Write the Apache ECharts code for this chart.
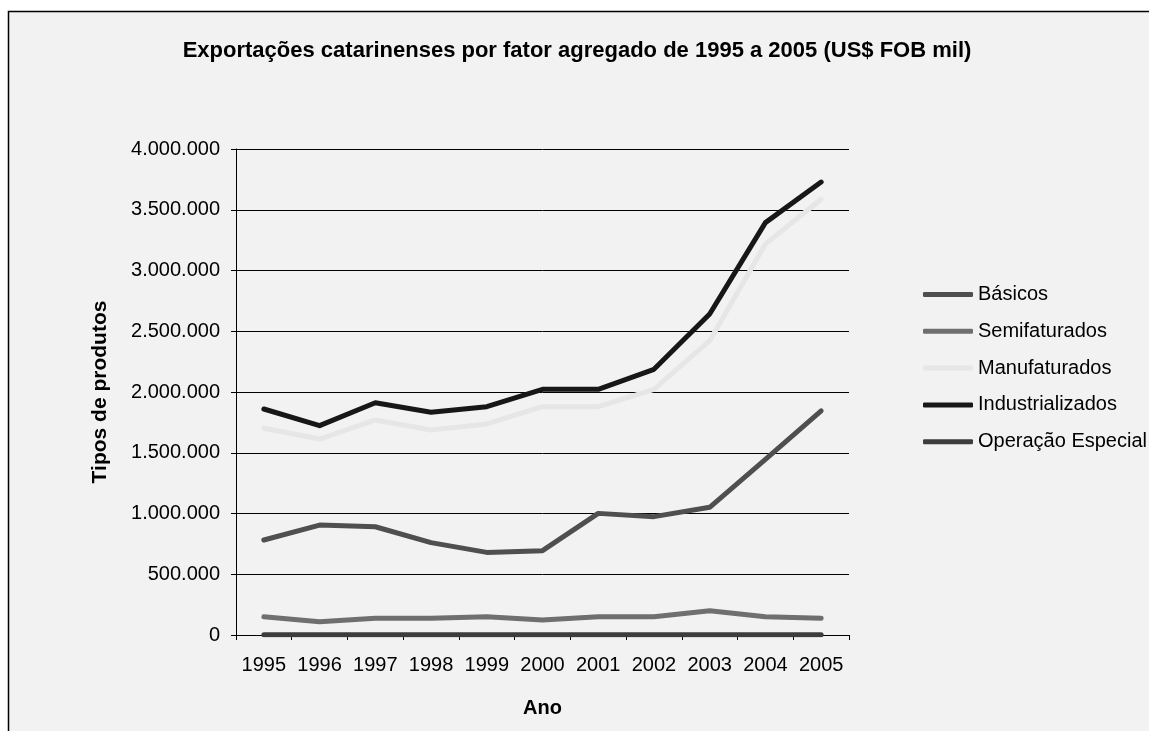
<!DOCTYPE html>
<html>
<head>
<meta charset="utf-8">
<title>Exportações catarinenses</title>
<script src="https://cdn.jsdelivr.net/npm/echarts@6/dist/echarts.min.js"></script>
<style>
  html, body { margin: 0; padding: 0; background: #ffffff; }
  #chart { width: 1149px; height: 731px; }
</style>
</head>
<body>
<div id="chart"></div>
<script>
// Anos (eixo das categorias)
const anos = ['1995', '1996', '1997', '1998', '1999', '2000', '2001', '2002', '2003', '2004', '2005'];

// Exportações por fator agregado (US$ FOB mil)
const basicos = [782000, 905000, 891000, 760000, 680000, 694000, 1001000, 974000, 1051000, 1445000, 1844000];
const semifaturados = [151000, 110000, 137000, 137000, 151000, 123000, 151000, 151000, 200000, 151000, 137000];
const manufaturados = [1701000, 1613000, 1770000, 1687000, 1737000, 1879000, 1879000, 2022000, 2422000, 3218000, 3586000];
const industrializados = [1860000, 1723000, 1912000, 1833000, 1879000, 2022000, 2022000, 2187000, 2642000, 3394000, 3728000];
const operacaoEspecial = [2000, 2000, 2000, 2000, 2000, 2000, 2000, 2000, 2000, 2000, 2000];

// Rótulos do eixo vertical
const yTicks = [0, 500000, 1000000, 1500000, 2000000, 2500000, 3000000, 3500000, 4000000];

const FONT = '"Liberation Sans", Arial, sans-serif';

function fmt(v) {
  return String(v).replace(/\B(?=(\d{3})+(?!\d))/g, '.');
}

function serie(nome, dados, cor) {
  return {
    name: nome,
    type: 'line',
    data: dados,
    showSymbol: false,
    symbol: 'none',
    lineStyle: { color: cor, width: 5, cap: 'round', join: 'round' },
    itemStyle: { color: cor },
    emphasis: { disabled: true }
  };
}

const chart = echarts.init(document.getElementById('chart'));
chart.setOption({
  animation: false,
  backgroundColor: '#ffffff',
  textStyle: { fontFamily: FONT },
  graphic: [{
    type: 'rect',
    z: -10,
    shape: { x: 8.5, y: 11.5, width: 1200, height: 800 },
    style: { fill: '#f2f2f2', stroke: '#000000', lineWidth: 1.5 }
  }],
  title: {
    text: 'Exportações catarinenses por fator agregado de 1995 a 2005 (US$ FOB mil)',
    left: 572,
    textAlign: 'center',
    top: 35,
    textStyle: { fontFamily: FONT, fontSize: 22, fontWeight: 'bold', color: '#000000' }
  },
  legend: {
    orient: 'vertical',
    left: 918,
    top: 279.5,
    itemWidth: 50,
    itemHeight: 5,
    itemGap: 16.8,
    icon: 'roundRect',
    data: ['Básicos', 'Semifaturados', 'Manufaturados', 'Industrializados', 'Operação Especial'],
    textStyle: { fontFamily: FONT, fontSize: 20, lineHeight: 20, color: '#000000' }
  },
  grid: { left: 236, right: 300, top: 149, bottom: 96, containLabel: false },
  xAxis: {
    type: 'category',
    data: anos,
    boundaryGap: true,
    name: 'Ano',
    nameLocation: 'middle',
    nameGap: 63,
    nameTextStyle: { fontFamily: FONT, fontSize: 20, fontWeight: 'bold', color: '#000000' },
    axisLine: { lineStyle: { color: '#000000', width: 1 } },
    axisTick: { show: true, length: 5, interval: 0, alignWithLabel: false, lineStyle: { color: '#000000' } },
    axisLabel: { fontFamily: FONT, fontSize: 20, color: '#000000', margin: 20, interval: 0, hideOverlap: false },
    splitLine: { show: false }
  },
  yAxis: {
    type: 'value',
    min: yTicks[0],
    max: yTicks[yTicks.length - 1],
    interval: yTicks[1] - yTicks[0],
    name: 'Tipos de produtos',
    nameLocation: 'middle',
    nameGap: 125,
    nameRotate: 90,
    nameTextStyle: { fontFamily: FONT, fontSize: 21, fontWeight: 'bold', color: '#000000' },
    axisLine: { show: true, lineStyle: { color: '#000000', width: 1 } },
    axisTick: { show: true, length: 5, lineStyle: { color: '#000000' } },
    axisLabel: { fontFamily: FONT, fontSize: 20, color: '#000000', margin: 16, formatter: fmt },
    splitLine: { show: true, lineStyle: { color: '#000000', width: 1 } }
  },
  series: [
    serie('Básicos', basicos, '#4f4f4f'),
    serie('Semifaturados', semifaturados, '#6f6f6f'),
    serie('Manufaturados', manufaturados, '#e6e6e6'),
    serie('Industrializados', industrializados, '#171717'),
    serie('Operação Especial', operacaoEspecial, '#3d3d3d')
  ]
});
</script>
</body>
</html>
